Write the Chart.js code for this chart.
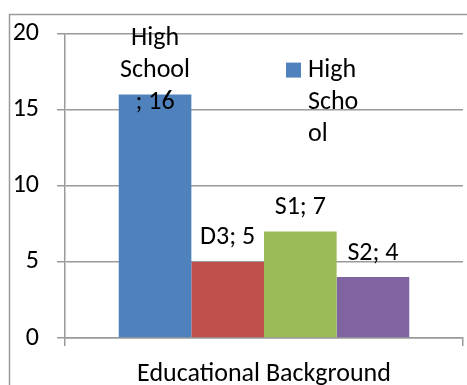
<!DOCTYPE html>
<html>
<head>
<meta charset="utf-8">
<script src="https://cdn.jsdelivr.net/npm/chart.js@4.4.1/dist/chart.umd.min.js"></script>
<style>
  html, body { margin: 0; padding: 0; background: #ffffff; }
  #wrap { width: 467px; height: 385px; }
</style>
</head>
<body>
<div id="wrap"><canvas id="chart" width="467" height="385"></canvas></div>
<script>
// Data
const categories = ['Educational Background'];
const seriesNames = ['High School', 'D3', 'S1', 'S2'];
const seriesValues = [16, 5, 7, 4];
const seriesColors = ['#4F81BD', '#C0504D', '#9BBB59', '#8064A2'];
const yTickValues = [0, 5, 10, 15, 20];

const FONT_FAMILY = 'Carlito, Calibri, Lato, sans-serif';
const FONT_SIZE = 26;
const LINE_GAP = 32;
const GRID_COLOR = '#9a9a9a';

// Greedy word wrap; words wider than the limit are broken by characters.
function wrapText(ctx, tokens, maxWidth) {
  const lines = [];
  let cur = '';
  tokens.forEach(tok => {
    const candidate = cur + tok.sep + tok.text;
    if (cur === '') {
      cur = tok.text;
    } else if (ctx.measureText(candidate).width <= maxWidth) {
      cur = candidate;
    } else {
      lines.push(cur);
      cur = tok.text;
    }
    while (ctx.measureText(cur).width > maxWidth && cur.length > 1) {
      let i = cur.length;
      while (i > 1 && ctx.measureText(cur.slice(0, i)).width > maxWidth) i--;
      lines.push(cur.slice(0, i));
      cur = cur.slice(i);
    }
  });
  if (cur !== '') lines.push(cur);
  return lines;
}

// Outer frame of the chart object
const framePlugin = {
  id: 'frame',
  beforeDraw(chart) {
    const ctx = chart.ctx;
    ctx.save();
    ctx.strokeStyle = GRID_COLOR;
    ctx.lineWidth = 1.5;
    ctx.beginPath();
    ctx.moveTo(9.5, chart.height + 2);
    ctx.lineTo(9.5, 14.5);
    ctx.lineTo(chart.width + 2, 14.5);
    ctx.stroke();
    ctx.restore();
  }
};

// "Series; value" labels above each bar
const barLabelPlugin = {
  id: 'barLabels',
  afterDatasetsDraw(chart) {
    const ctx = chart.ctx;
    ctx.save();
    ctx.font = FONT_SIZE + 'px ' + FONT_FAMILY;
    ctx.fillStyle = '#000000';
    ctx.textAlign = 'center';
    ctx.textBaseline = 'middle';
    chart.data.datasets.forEach((ds, i) => {
      const bar = chart.getDatasetMeta(i).data[0];
      const words = ds.label.split(' ').map((w, k) => ({ text: w, sep: k === 0 ? '' : ' ' }));
      words.push({ text: '; ' + ds.data[0], sep: '' });
      const lines = wrapText(ctx, words, bar.width + 4);
      const centre = bar.y - 24;
      const firstY = centre - (lines.length - 1) * LINE_GAP / 2;
      lines.forEach((ln, k) => ctx.fillText(ln, bar.x, firstY + k * LINE_GAP));
    });
    ctx.restore();
  }
};

// Legend entry for the first series, placed inside the plot area
const legendPlugin = {
  id: 'insideLegend',
  afterDraw(chart) {
    const ctx = chart.ctx;
    const area = chart.chartArea;
    const ds = chart.data.datasets[0];
    ctx.save();
    ctx.font = FONT_SIZE + 'px ' + FONT_FAMILY;
    ctx.fillStyle = ds.backgroundColor;
    const bx = area.left + 221, by = area.top + 29;
    ctx.fillRect(bx, by, 15, 15);
    ctx.fillStyle = '#000000';
    ctx.textAlign = 'left';
    ctx.textBaseline = 'middle';
    const sample = ctx.measureText('Scho').width;
    const words = ds.label.split(' ').map((w, k) => ({ text: w, sep: k === 0 ? '' : ' ' }));
    const lines = wrapText(ctx, words, sample + 2);
    lines.forEach((ln, k) => ctx.fillText(ln, bx + 22, by + 8 + k * LINE_GAP));
    ctx.restore();
  }
};

new Chart(document.getElementById('chart'), {
  type: 'bar',
  data: {
    labels: categories,
    datasets: seriesNames.map((name, i) => ({
      label: name,
      data: [seriesValues[i]],
      backgroundColor: seriesColors[i],
      borderWidth: 0,
      categoryPercentage: 0.73,
      barPercentage: 1
    }))
  },
  options: {
    responsive: false,
    animation: false,
    devicePixelRatio: 1,
    layout: { padding: { left: 9, top: 31, right: 4, bottom: 0 } },
    plugins: { legend: { display: false }, tooltip: { enabled: false } },
    scales: {
      x: {
        offset: true,
        afterFit(scale) { scale.height = 47; },
        grid: { drawOnChartArea: false, drawTicks: true, tickLength: 8, color: GRID_COLOR, lineWidth: 1.5, offset: true },
        border: { color: GRID_COLOR, width: 1.5 },
        ticks: { color: '#000000', padding: 13, font: { family: FONT_FAMILY, size: FONT_SIZE } }
      },
      y: {
        min: 0,
        max: 20,
        afterFit(scale) { scale.width = 56; },
        afterBuildTicks(scale) { scale.ticks = yTickValues.map(v => ({ value: v })); },
        grid: { color: GRID_COLOR, lineWidth: 1.5, tickLength: 8 },
        border: { color: GRID_COLOR, width: 1.5 },
        ticks: { color: '#000000', padding: 18, font: { family: FONT_FAMILY, size: FONT_SIZE } }
      }
    }
  },
  plugins: [framePlugin, barLabelPlugin, legendPlugin]
});
</script>
</body>
</html>
